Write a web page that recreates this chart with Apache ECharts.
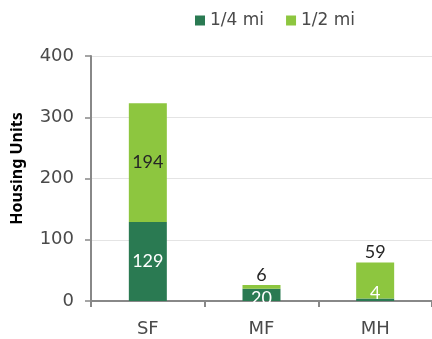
<!DOCTYPE html>
<html><head><meta charset="utf-8">
<script src="https://cdn.jsdelivr.net/npm/echarts@6/dist/echarts.min.js"></script>
<style>html,body{margin:0;padding:0;background:#fff}#c{width:432px;height:339px}</style>
</head><body><div id="c"></div>
<script>
const categories = ['SF', 'MF', 'MH'];
const quarterMile = [129, 20, 4];
const halfMile = [194, 6, 59];
const yTicks = [0, 100, 200, 300, 400];

const chart = echarts.init(document.getElementById('c'));
const labelFont = 'Lato';
const axisFont = 'DejaVu Sans';
const textGrey = '#4a4a4a';
chart.setOption({
  animation: false,
  legend: {
    top: 7, left: 190,
    itemWidth: 10, itemHeight: 10, itemGap: 22,
    icon: 'rect',
    textStyle: { fontFamily: axisFont, fontSize: 17, color: textGrey },
    data: ['1/4 mi', '1/2 mi']
  },
  grid: { left: 91, top: 56, right: -2, bottom: 38 },
  xAxis: {
    type: 'category', data: categories,
    axisLine: { lineStyle: { color: '#888', width: 2 } },
    axisTick: { show: true, length: 6, lineStyle: { color: '#888', width: 2 } },
    axisLabel: { fontFamily: axisFont, fontSize: 18, color: textGrey, margin: 19 }
  },
  yAxis: {
    type: 'value', min: yTicks[0], max: yTicks[yTicks.length - 1], interval: 100,
    name: 'Housing Units', nameLocation: 'middle', nameGap: 66,
    nameTextStyle: { fontFamily: 'Noto Sans', fontSize: 16, fontWeight: 'bold', color: '#000', padding: [0, 0, 0, 20] },
    axisLine: { show: true, lineStyle: { color: '#888', width: 2 } },
    axisTick: { show: true, length: 6, lineStyle: { color: '#888', width: 1.5 } },
    axisLabel: { fontFamily: axisFont, fontSize: 18, color: textGrey, margin: 17 },
    splitLine: { lineStyle: { color: '#e4e4e4', width: 1 } }
  },
  series: [
    {
      name: '1/4 mi', type: 'bar', stack: 'a', barWidth: 38,
      itemStyle: { color: '#2a7a52' },
      label: { show: true, position: 'inside', color: '#fff', fontFamily: labelFont, fontSize: 18 },
      data: quarterMile.map(v => v < 10 ? { value: v, label: { offset: [0, -7] } } : { value: v, label: { offset: [0, v < 30 ? 3 : 0] } })
    },
    {
      name: '1/2 mi', type: 'bar', stack: 'a', barWidth: 38,
      itemStyle: { color: '#8dc63f' },
      label: { show: true, position: 'inside', color: '#262626', fontFamily: labelFont, fontSize: 18 },
      data: halfMile.map((v, i) => i > 0 ? { value: v, label: { position: 'top', distance: 1 } } : v)
    }
  ]
});
</script></body></html>
